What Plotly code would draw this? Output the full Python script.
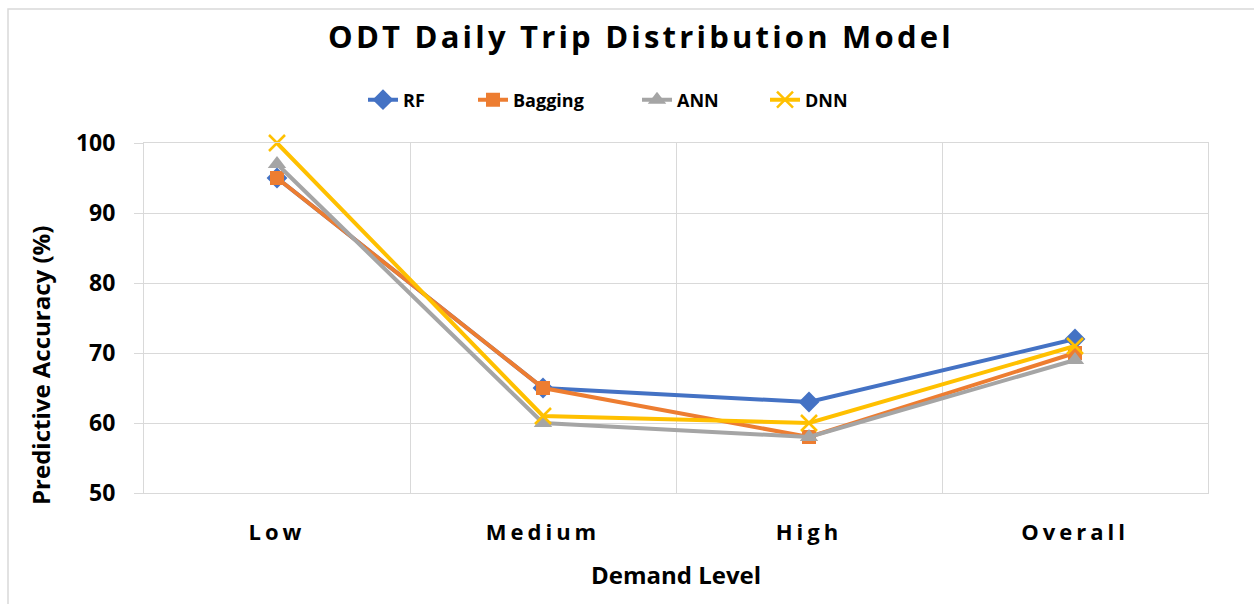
import plotly.graph_objects as go

categories = ["Low", "Medium", "High", "Overall"]
rf = [95, 65, 63, 72]
bagging = [95, 65, 58, 70]
ann = [97, 60, 58, 69]
dnn = [100, 61, 60, 71]
y_ticks = [50, 60, 70, 80, 90, 100]

FONT = "Open Sans"
W, H = 1254, 604
L, R, T, B = 144, 46, 143, 111
PW, PH = W - L - R, H - T - B

def px_x(p):
    return (p - L) / PW

def px_y(p):
    return 1 - (p - T) / PH

series = [
    ("RF", rf, "#4472C4", dict(symbol="diamond", size=16), "legend"),
    ("Bagging", bagging, "#ED7D31", dict(symbol="square", size=14), "legend2"),
    ("ANN", ann, "#A5A5A5", dict(symbol="triangle-up", size=16), "legend3"),
    ("DNN", dnn, "#FFC000", dict(symbol="x-thin", size=16), "legend4"),
]

fig = go.Figure()
for name, vals, col, mk, lg in series:
    m = dict(color=col, **mk)
    if mk["symbol"] == "x-thin":
        m["line"] = dict(color=col, width=2.5)
    fig.add_trace(go.Scatter(
        x=categories, y=vals, name=name, mode="lines+markers",
        line=dict(color=col, width=4), marker=m, legend=lg,
        cliponaxis=False,
    ))

legend_text_x = [403, 513, 677, 805]
leg_common = dict(orientation="h", yanchor="middle", xanchor="left",
                  font=dict(family=FONT, size=18, color="#000000", weight="bold"),
                  bgcolor="rgba(0,0,0,0)", borderwidth=0)
layout_legends = {}
for key, xp in zip(["legend", "legend2", "legend3", "legend4"], legend_text_x):
    layout_legends[key] = dict(x=px_x(xp - 40), y=px_y(100), **leg_common)

fig.update_layout(
    width=W, height=H,
    margin=dict(l=L, r=R, t=T, b=B),
    paper_bgcolor="white", plot_bgcolor="white",
    font=dict(family=FONT, color="#000000"),
    title=dict(text="<b>ODT Daily Trip Distribution Model</b>",
               x=641 / W, xref="container", xanchor="center",
               y=1 - 37 / H, yanchor="middle",
               font=dict(family=FONT, size=31, color="#000000")),
    showlegend=True,
    **layout_legends,
    xaxis=dict(
        type="category", categoryorder="array", categoryarray=categories,
        range=[-0.5, 3.5], tickson="boundaries",
        showgrid=True, gridcolor="#d9d9d9", gridwidth=1,
        showline=True, linecolor="#d9d9d9", linewidth=1, mirror=True,
        ticks="", zeroline=False,
        tickfont=dict(family=FONT, size=22, color="#000000", weight="bold"),
        ticklabelstandoff=20,
        title=dict(text="<b>Demand Level</b>", standoff=21,
                   font=dict(family=FONT, size=24, color="#000000")),
    ),
    yaxis=dict(
        range=[50, 100], tickvals=y_ticks,
        showgrid=True, gridcolor="#d9d9d9", gridwidth=1,
        showline=True, linecolor="#d9d9d9", linewidth=1, mirror=True,
        ticks="outside", ticklen=9, tickcolor="#d9d9d9", tickwidth=1,
        zeroline=False,
        tickfont=dict(family=FONT, size=23, color="#000000", weight="bold"),
        ticklabelstandoff=14,
    ),
    annotations=[dict(
        text="<b>Predictive Accuracy (%)</b>", textangle=-90,
        xref="paper", yref="paper", x=px_x(40), y=px_y(366),
        xanchor="center", yanchor="middle", showarrow=False,
        font=dict(family=FONT, size=24, color="#000000"),
    )],
    shapes=[dict(
        type="rect", xref="paper", yref="paper",
        x0=px_x(8), y0=px_y(640), x1=px_x(1290), y1=px_y(9),
        line=dict(color="#d9d9d9", width=1.5), fillcolor="rgba(0,0,0,0)",
        layer="below",
    )],
)

post = """
document.body.style.margin = '0';
document.body.style.padding = '0';
document.querySelectorAll('.gtitle').forEach(function(e){ e.style.letterSpacing = '3.2px'; });
document.querySelectorAll('.xtick text').forEach(function(e){ e.style.letterSpacing = '4px'; });
"""

fig.write_html("out.html", post_script=post, config={"displayModeBar": False})
